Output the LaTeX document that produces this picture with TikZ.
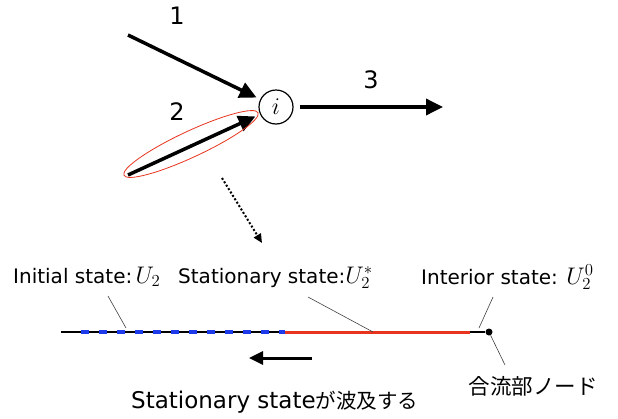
\RequirePackage{fix-cm}
\documentclass[tikz,border=0pt]{standalone}
\usepackage{fontspec}
\setmainfont{DejaVu Sans}
\newfontfamily\jpfont{Noto Sans CJK JP}
\usetikzlibrary{arrows.meta,shapes.geometric}
\definecolor{wavered}{RGB}{232,52,30}
\definecolor{initblue}{RGB}{30,60,235}
\newcommand\statemath[1]{{\fontsize{24}{24}\selectfont$#1$}}
\tikzset{
  flow/.style={line width=3.5pt,-{Triangle[length=17pt,width=16pt]}},
  leader/.style={line width=0.6pt,black!75},
  lbl/.style={font=\fontsize{20}{22}\selectfont,inner sep=0pt},
  num/.style={font=\fontsize{24}{26}\selectfont,inner sep=0pt},
}
\begin{document}
\begin{tikzpicture}[x=1pt,y=-1pt]
  \useasboundingbox (0,0) rectangle (618,418);
  % junction node and links
  \node[draw,circle,line width=1.2pt,minimum size=34pt,inner sep=0pt] (i) at (276,107) {\statemath{i}};
  \coordinate (s1) at (128,35);
  \coordinate (s2) at (128,175);
  \coordinate (e3) at (443,107);
  \draw[flow,shorten >=4pt] (s1) -- (i);
  \draw[flow,shorten >=5pt] (s2) -- (i);
  \draw[flow,shorten <=6pt] (i) -- (e3);
  \node[num] (n1) at (177,16) {1};
  \node[num] (n2) at (177,112) {2};
  \node[num] (n3) at (371,80) {3};
  \node[draw=wavered,line width=0.8pt,ellipse,minimum width=148pt,minimum height=26pt,rotate=25] (focus) at (191,144) {};
  \coordinate (d1) at (222,178);
  \coordinate (d2) at (262,243);
  \draw[dotted,line width=2pt,-{Triangle[length=9pt,width=8pt]}] (d1) -- (d2);
  % link 2 seen from the side
  \coordinate (lend) at (61,332);
  \node[circle,fill,inner sep=0pt,minimum size=7pt] (junc) at (489,332) {};
  \coordinate (bstart) at (81,332);
  \coordinate (bend) at (285,332);
  \coordinate (rend) at (470,332);
  \draw[line width=1.5pt] (lend) -- (junc);
  \draw[initblue,line width=4pt,dash pattern=on 8pt off 10pt] (bstart) -- (bend);
  \draw[wavered,line width=3pt] (bend) -- (rend);
  \node[lbl,anchor=base west] (init) at (13,283) {Initial state:\,\statemath{U_2}};
  \node[lbl,anchor=base west] (stat) at (178,283) {Stationary state:\statemath{U_2^*}};
  \node[lbl,anchor=base west] (inter) at (421,284) {Interior state: \statemath{U_2^0}};
  \coordinate (p1) at (108,296);
  \coordinate (q1) at (126,328);
  \coordinate (p2) at (308,297);
  \coordinate (q2) at (373,332);
  \coordinate (p3) at (493,297);
  \coordinate (q3) at (479,328);
  \coordinate (p4) at (505,365);
  \draw[leader] (p1) -- (q1);
  \draw[leader] (p2) -- (q2);
  \draw[leader] (p3) -- (q3);
  \draw[leader] (junc) -- (p4);
  \coordinate (w1) at (312,358);
  \coordinate (w2) at (249,358);
  \draw[line width=3pt,-{Triangle[length=14pt,width=13pt]}] (w1) -- (w2);
  \node[lbl,font=\fontsize{23}{25}\selectfont,anchor=base west] (spread) at (131,408) {Stationary state{\jpfont\fontsize{20.5}{22}\selectfont が波及する}};
  \node[lbl] (jnode) at (533,386) {\jpfont\fontsize{21.5}{22}\selectfont 合流部ノード};
\end{tikzpicture}
\end{document}
